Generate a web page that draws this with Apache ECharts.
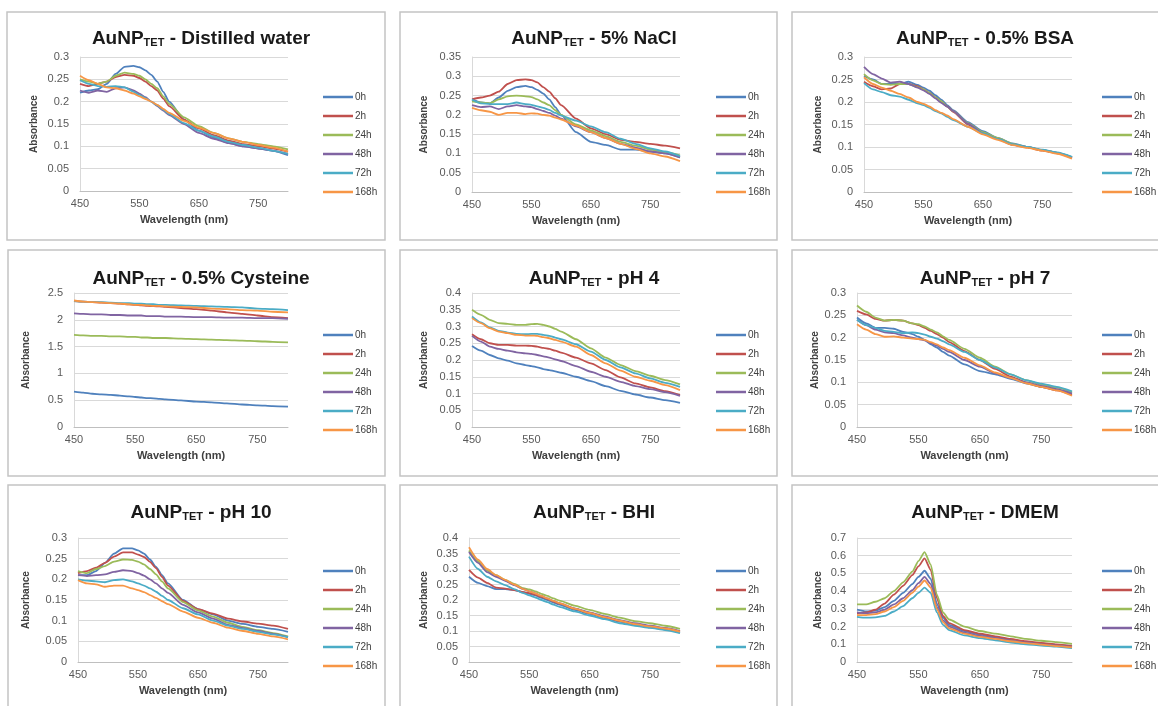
<!DOCTYPE html>
<html>
<head>
<meta charset="utf-8">
<script src="https://cdn.jsdelivr.net/npm/echarts@6/dist/echarts.min.js"></script>
<style>
  html, body { margin: 0; padding: 0; background: #fff; }
  #chart { width: 1158px; height: 706px; }
</style>
</head>
<body>
<div id="chart"></div>
<script>
// ------------------------------------------------------------
// data (absorbance vs wavelength)
// ------------------------------------------------------------
const wavelengths = [450, 465, 480, 495, 510, 525, 540, 550, 560, 570, 580, 590, 600, 625, 650, 675, 700, 725, 750, 775, 800];
const timeLabels = ['0h', '2h', '24h', '48h', '72h', '168h'];
const xTicks = [450, 550, 650, 750];

const panelNames = ['Distilled water', '5% NaCl', '0.5% BSA', '0.5% Cysteine', 'pH 4', 'pH 7', 'pH 10', 'BHI', 'DMEM'];
const yMax  = [0.3, 0.35, 0.3, 2.5, 0.4, 0.3, 0.3, 0.4, 0.7];
const yStep = [0.05, 0.05, 0.05, 0.5, 0.05, 0.05, 0.05, 0.05, 0.1];

// rows: 0h, 2h, 24h, 48h, 72h, 168h
const waterData = [
  [0.22, 0.225, 0.228, 0.24, 0.262, 0.278, 0.28, 0.277, 0.27, 0.26, 0.245, 0.222, 0.2, 0.16, 0.135, 0.12, 0.108, 0.1, 0.095, 0.09, 0.08],
  [0.24, 0.235, 0.24, 0.245, 0.255, 0.26, 0.258, 0.253, 0.245, 0.235, 0.225, 0.207, 0.19, 0.16, 0.14, 0.125, 0.113, 0.105, 0.1, 0.095, 0.088],
  [0.25, 0.245, 0.24, 0.245, 0.258, 0.265, 0.262, 0.258, 0.25, 0.24, 0.23, 0.212, 0.195, 0.165, 0.145, 0.13, 0.118, 0.11, 0.105, 0.1, 0.093],
  [0.225, 0.22, 0.225, 0.222, 0.23, 0.232, 0.225, 0.218, 0.21, 0.2, 0.19, 0.18, 0.17, 0.15, 0.13, 0.117, 0.107, 0.1, 0.095, 0.09, 0.083],
  [0.248, 0.24, 0.235, 0.233, 0.235, 0.232, 0.222, 0.215, 0.208, 0.2, 0.192, 0.182, 0.172, 0.152, 0.135, 0.122, 0.11, 0.103, 0.097, 0.09, 0.083],
  [0.258, 0.248, 0.24, 0.232, 0.23, 0.225, 0.218, 0.212, 0.206, 0.2, 0.193, 0.184, 0.175, 0.157, 0.142, 0.13, 0.118, 0.11, 0.103, 0.097, 0.088]
];
const naclData = [
  [0.24, 0.232, 0.23, 0.245, 0.262, 0.272, 0.275, 0.272, 0.265, 0.255, 0.24, 0.22, 0.2, 0.155, 0.13, 0.122, 0.11, 0.11, 0.105, 0.1, 0.09],
  [0.24, 0.245, 0.25, 0.26, 0.28, 0.29, 0.292, 0.29, 0.284, 0.272, 0.26, 0.243, 0.225, 0.19, 0.165, 0.15, 0.135, 0.13, 0.125, 0.12, 0.113],
  [0.235, 0.232, 0.23, 0.24, 0.248, 0.25, 0.248, 0.246, 0.24, 0.232, 0.225, 0.212, 0.2, 0.175, 0.16, 0.145, 0.13, 0.12, 0.11, 0.103, 0.095],
  [0.225, 0.22, 0.222, 0.215, 0.222, 0.225, 0.222, 0.22, 0.215, 0.21, 0.205, 0.198, 0.19, 0.17, 0.155, 0.14, 0.125, 0.115, 0.105, 0.1, 0.09],
  [0.24, 0.23, 0.228, 0.228, 0.228, 0.232, 0.228, 0.226, 0.222, 0.218, 0.213, 0.205, 0.198, 0.185, 0.17, 0.155, 0.138, 0.125, 0.113, 0.105, 0.093],
  [0.218, 0.212, 0.208, 0.2, 0.205, 0.205, 0.202, 0.204, 0.203, 0.2, 0.198, 0.193, 0.188, 0.172, 0.155, 0.14, 0.125, 0.112, 0.1, 0.092, 0.08]
];
const bsaData = [
  [0.258, 0.25, 0.24, 0.24, 0.24, 0.245, 0.238, 0.232, 0.225, 0.215, 0.205, 0.193, 0.182, 0.155, 0.135, 0.12, 0.108, 0.1, 0.093, 0.087, 0.077],
  [0.245, 0.235, 0.228, 0.23, 0.24, 0.24, 0.235, 0.228, 0.22, 0.21, 0.2, 0.19, 0.178, 0.15, 0.13, 0.118, 0.105, 0.099, 0.092, 0.086, 0.076],
  [0.262, 0.248, 0.24, 0.238, 0.24, 0.24, 0.233, 0.228, 0.22, 0.21, 0.202, 0.19, 0.18, 0.153, 0.133, 0.12, 0.107, 0.1, 0.093, 0.087, 0.077],
  [0.278, 0.262, 0.252, 0.243, 0.245, 0.24, 0.232, 0.226, 0.218, 0.208, 0.198, 0.19, 0.18, 0.152, 0.13, 0.118, 0.105, 0.1, 0.093, 0.087, 0.077],
  [0.242, 0.228, 0.222, 0.215, 0.212, 0.205, 0.197, 0.193, 0.187, 0.18, 0.175, 0.167, 0.16, 0.145, 0.13, 0.118, 0.106, 0.1, 0.094, 0.088, 0.078],
  [0.255, 0.24, 0.232, 0.225, 0.218, 0.21, 0.2, 0.196, 0.19, 0.182, 0.176, 0.17, 0.162, 0.145, 0.128, 0.116, 0.104, 0.098, 0.092, 0.085, 0.074]
];
const cysteineData = [
  [0.66, 0.64, 0.62, 0.61, 0.6, 0.585, 0.57, 0.56, 0.55, 0.54, 0.535, 0.525, 0.515, 0.495, 0.475, 0.46, 0.44, 0.42, 0.405, 0.39, 0.38],
  [2.35, 2.34, 2.33, 2.32, 2.31, 2.3, 2.29, 2.28, 2.27, 2.26, 2.255, 2.25, 2.24, 2.22, 2.2, 2.17, 2.14, 2.11, 2.08, 2.05, 2.03],
  [1.72, 1.71, 1.7, 1.7, 1.69, 1.69, 1.68, 1.68, 1.67, 1.67, 1.66, 1.66, 1.66, 1.65, 1.64, 1.63, 1.62, 1.61, 1.6, 1.59, 1.58],
  [2.12, 2.11, 2.1, 2.1, 2.09, 2.09, 2.08, 2.08, 2.08, 2.07, 2.07, 2.07, 2.06, 2.06, 2.05, 2.05, 2.04, 2.04, 2.03, 2.03, 2.02],
  [2.35, 2.34, 2.33, 2.33, 2.32, 2.31, 2.31, 2.3, 2.3, 2.29, 2.29, 2.28, 2.28, 2.27, 2.26, 2.25, 2.24, 2.23, 2.21, 2.2, 2.18],
  [2.36, 2.34, 2.33, 2.32, 2.31, 2.3, 2.29, 2.28, 2.28, 2.27, 2.26, 2.26, 2.25, 2.24, 2.23, 2.21, 2.2, 2.18, 2.17, 2.15, 2.14]
];
const ph4Data = [
  [0.242, 0.228, 0.215, 0.205, 0.198, 0.19, 0.185, 0.182, 0.178, 0.173, 0.17, 0.166, 0.162, 0.15, 0.137, 0.122, 0.108, 0.097, 0.088, 0.08, 0.072],
  [0.277, 0.262, 0.25, 0.245, 0.245, 0.243, 0.243, 0.242, 0.24, 0.236, 0.233, 0.228, 0.222, 0.207, 0.19, 0.17, 0.148, 0.13, 0.118, 0.107, 0.095],
  [0.35, 0.335, 0.32, 0.31, 0.308, 0.305, 0.305, 0.307, 0.308, 0.305, 0.3, 0.293, 0.285, 0.262, 0.235, 0.207, 0.185, 0.167, 0.153, 0.14, 0.127],
  [0.272, 0.255, 0.24, 0.233, 0.228, 0.223, 0.22, 0.218, 0.215, 0.211, 0.207, 0.202, 0.197, 0.182, 0.165, 0.15, 0.135, 0.122, 0.113, 0.104, 0.093],
  [0.33, 0.312, 0.297, 0.287, 0.282, 0.278, 0.277, 0.278, 0.278, 0.275, 0.272, 0.267, 0.262, 0.247, 0.225, 0.2, 0.178, 0.16, 0.145, 0.132, 0.12],
  [0.325, 0.31, 0.295, 0.285, 0.28, 0.275, 0.273, 0.273, 0.272, 0.268, 0.265, 0.26, 0.255, 0.24, 0.215, 0.19, 0.168, 0.15, 0.138, 0.125, 0.11]
];
const ph7Data = [
  [0.245, 0.232, 0.222, 0.222, 0.22, 0.213, 0.208, 0.202, 0.195, 0.185, 0.178, 0.168, 0.16, 0.14, 0.125, 0.118, 0.108, 0.098, 0.09, 0.083, 0.075],
  [0.26, 0.252, 0.242, 0.238, 0.24, 0.238, 0.232, 0.228, 0.222, 0.215, 0.208, 0.2, 0.19, 0.17, 0.15, 0.13, 0.113, 0.1, 0.09, 0.082, 0.072],
  [0.272, 0.258, 0.245, 0.238, 0.24, 0.238, 0.232, 0.23, 0.225, 0.218, 0.212, 0.203, 0.195, 0.175, 0.155, 0.135, 0.118, 0.105, 0.095, 0.088, 0.078],
  [0.24, 0.228, 0.218, 0.212, 0.21, 0.205, 0.2, 0.197, 0.194, 0.188, 0.182, 0.175, 0.168, 0.15, 0.135, 0.12, 0.11, 0.1, 0.092, 0.085, 0.075],
  [0.24, 0.228, 0.222, 0.215, 0.213, 0.21, 0.212, 0.21, 0.207, 0.202, 0.198, 0.192, 0.185, 0.168, 0.15, 0.133, 0.118, 0.105, 0.097, 0.09, 0.08],
  [0.23, 0.218, 0.208, 0.202, 0.203, 0.2, 0.198, 0.197, 0.195, 0.19, 0.185, 0.178, 0.172, 0.155, 0.138, 0.122, 0.11, 0.098, 0.09, 0.082, 0.07]
];
const ph10Data = [
  [0.21, 0.21, 0.22, 0.24, 0.262, 0.275, 0.275, 0.27, 0.262, 0.248, 0.23, 0.21, 0.19, 0.15, 0.128, 0.115, 0.1, 0.092, 0.085, 0.08, 0.073],
  [0.215, 0.22, 0.228, 0.24, 0.255, 0.265, 0.265, 0.26, 0.254, 0.242, 0.227, 0.206, 0.185, 0.148, 0.128, 0.117, 0.105, 0.098, 0.093, 0.088, 0.08],
  [0.22, 0.215, 0.225, 0.232, 0.243, 0.248, 0.247, 0.243, 0.236, 0.225, 0.212, 0.195, 0.178, 0.145, 0.125, 0.11, 0.095, 0.085, 0.077, 0.07, 0.062],
  [0.21, 0.208, 0.21, 0.212, 0.218, 0.222, 0.22, 0.215, 0.209, 0.2, 0.19, 0.178, 0.167, 0.138, 0.12, 0.105, 0.09, 0.082, 0.075, 0.068, 0.06],
  [0.2, 0.197, 0.195, 0.193, 0.198, 0.2, 0.195, 0.19, 0.185, 0.178, 0.17, 0.16, 0.15, 0.13, 0.115, 0.1, 0.088, 0.08, 0.073, 0.067, 0.06],
  [0.198, 0.19, 0.188, 0.182, 0.185, 0.185, 0.178, 0.174, 0.169, 0.162, 0.155, 0.147, 0.14, 0.122, 0.107, 0.095, 0.083, 0.075, 0.068, 0.062, 0.055]
];
const bhiData = [
  [0.275, 0.255, 0.245, 0.235, 0.235, 0.232, 0.225, 0.22, 0.215, 0.207, 0.2, 0.192, 0.185, 0.168, 0.155, 0.142, 0.13, 0.12, 0.112, 0.105, 0.095],
  [0.297, 0.272, 0.255, 0.24, 0.237, 0.232, 0.225, 0.222, 0.217, 0.21, 0.203, 0.195, 0.188, 0.172, 0.158, 0.145, 0.133, 0.123, 0.115, 0.108, 0.098],
  [0.36, 0.325, 0.295, 0.28, 0.265, 0.252, 0.238, 0.234, 0.228, 0.22, 0.213, 0.205, 0.198, 0.182, 0.168, 0.155, 0.143, 0.132, 0.125, 0.117, 0.107],
  [0.355, 0.32, 0.29, 0.275, 0.262, 0.248, 0.235, 0.228, 0.221, 0.213, 0.205, 0.197, 0.19, 0.173, 0.16, 0.147, 0.135, 0.125, 0.117, 0.11, 0.1],
  [0.34, 0.3, 0.275, 0.26, 0.248, 0.235, 0.222, 0.215, 0.208, 0.2, 0.193, 0.185, 0.178, 0.163, 0.15, 0.138, 0.125, 0.117, 0.11, 0.103, 0.093],
  [0.37, 0.33, 0.3, 0.28, 0.265, 0.25, 0.235, 0.228, 0.221, 0.213, 0.205, 0.197, 0.19, 0.172, 0.158, 0.145, 0.133, 0.122, 0.115, 0.108, 0.098]
];
const dmemData = [
  [0.295, 0.285, 0.29, 0.31, 0.345, 0.39, 0.44, 0.48, 0.515, 0.47, 0.33, 0.25, 0.21, 0.175, 0.155, 0.14, 0.125, 0.113, 0.105, 0.097, 0.088],
  [0.275, 0.28, 0.295, 0.33, 0.38, 0.43, 0.49, 0.54, 0.585, 0.52, 0.36, 0.26, 0.22, 0.18, 0.16, 0.145, 0.13, 0.117, 0.108, 0.1, 0.09],
  [0.325, 0.325, 0.34, 0.36, 0.4, 0.45, 0.51, 0.57, 0.62, 0.55, 0.38, 0.28, 0.24, 0.2, 0.175, 0.16, 0.145, 0.13, 0.12, 0.112, 0.102],
  [0.28, 0.275, 0.28, 0.295, 0.325, 0.36, 0.405, 0.445, 0.48, 0.44, 0.31, 0.235, 0.2, 0.165, 0.148, 0.135, 0.12, 0.11, 0.1, 0.093, 0.085],
  [0.255, 0.25, 0.252, 0.26, 0.285, 0.315, 0.36, 0.39, 0.42, 0.39, 0.28, 0.21, 0.18, 0.15, 0.135, 0.122, 0.11, 0.1, 0.093, 0.087, 0.078],
  [0.265, 0.265, 0.27, 0.285, 0.31, 0.345, 0.39, 0.425, 0.46, 0.42, 0.3, 0.225, 0.19, 0.16, 0.142, 0.13, 0.117, 0.107, 0.098, 0.09, 0.082]
];
const panelData = [waterData, naclData, bsaData, cysteineData, ph4Data, ph7Data, ph10Data, bhiData, dmemData];

// ------------------------------------------------------------
// layout (pixels)
// ------------------------------------------------------------
const seriesColors = ['#4F81BD', '#C0504D', '#9BBB59', '#8064A2', '#4BACC6', '#F79646'];
const FONT = '"Liberation Sans", Arial, sans-serif';

// panel frame: x, y, w, h
const frames = [
  [7, 12, 378, 228], [400, 12, 377, 228], [792, 12, 400, 228],
  [8, 250, 377, 226], [400, 250, 377, 226], [792, 250, 400, 226],
  [8, 485, 377, 240], [400, 485, 377, 240], [792, 485, 400, 240]
];
// plot area: left, top, right edge, bottom edge
const plots = [
  [80, 57, 288, 191], [472, 57, 680, 192], [864, 57, 1072, 192],
  [74, 293, 288, 427], [472, 293, 680, 427], [857, 293, 1072, 427],
  [78, 538, 288, 662], [469, 538, 680, 662], [857, 538, 1072, 662]
];
const titleX = [196, 589, 980];
const titleY = [21, 261, 495];
const legendX = [318, 711, 1097];
const legendY = [87, 325, 561];
const absorbanceX = [33, 423, 817, 25, 423, 817, 25, 423, 817];

const grids = [], xAxes = [], yAxes = [], series = [], titles = [], legends = [], frameRects = [];

panelNames.forEach((name, i) => {
  const [l, t, r, b] = plots[i];
  const col = i % 3, row = Math.floor(i / 3);

  grids.push({ left: l, top: t, width: r - l, height: b - t });

  xAxes.push({
    type: 'value', gridIndex: i, min: 450, max: 800,
    name: 'Wavelength (nm)', nameLocation: 'middle', nameGap: 23,
    nameTextStyle: { fontFamily: FONT, fontSize: 11, fontWeight: 'bold', color: '#404040' },
    axisLine: { lineStyle: { color: '#bfbfbf', width: 1 } },
    axisTick: { show: false },
    splitLine: { show: false },
    axisLabel: { customValues: xTicks, fontFamily: FONT, fontSize: 11, color: '#595959', margin: 7 }
  });

  yAxes.push({
    type: 'value', gridIndex: i, min: 0, max: yMax[i], interval: yStep[i],
    name: 'Absorbance', nameLocation: 'middle', nameRotate: 90, nameGap: l - absorbanceX[i] - 6,
    nameTextStyle: { fontFamily: FONT, fontSize: 10, fontWeight: 'bold', color: '#404040' },
    axisLine: { show: true, lineStyle: { color: '#d9d9d9', width: 1 } },
    axisTick: { show: false },
    splitLine: { lineStyle: { color: '#d9d9d9', width: 1 } },
    axisLabel: { fontFamily: FONT, fontSize: 11, color: '#595959', margin: 11 }
  });

  titles.push({
    text: '{a|AuNP}{s|TET}{a| - ' + name + '}',
    left: titleX[col], top: titleY[row], textAlign: 'center',
    textStyle: {
      rich: {
        a: { fontFamily: FONT, fontSize: 19, fontWeight: 'bold', color: '#1a1a1a', lineHeight: 22, verticalAlign: 'bottom' },
        s: { fontFamily: FONT, fontSize: 11, fontWeight: 'bold', color: '#1a1a1a', lineHeight: 17, verticalAlign: 'bottom' }
      }
    }
  });

  // plain line markers in the legend, like the spreadsheet original
  legends.push({
    orient: 'vertical', left: legendX[col], top: legendY[row],
    data: timeLabels, icon: 'rect', itemWidth: 30, itemHeight: 2.5, itemGap: 9,
    textStyle: { fontFamily: FONT, fontSize: 10, color: '#404040', lineHeight: 10, padding: [0, 0, 0, -3] }
  });

  const [fx, fy, fw, fh] = frames[i];
  frameRects.push({
    type: 'rect', silent: true, z: -1,
    shape: { x: fx, y: fy, width: fw, height: fh },
    style: { fill: '#fff', stroke: '#c4c4c4', lineWidth: 1.5 }
  });

  panelData[i].forEach((vals, j) => {
    series.push({
      type: 'line', name: timeLabels[j],
      xAxisIndex: i, yAxisIndex: i,
      data: wavelengths.map((w, k) => [w, vals[k]]),
      symbol: 'none', smooth: 0.2, smoothMonotone: 'x',
      lineStyle: { width: 1.8, color: seriesColors[j] },
      itemStyle: { color: seriesColors[j] },
      animation: false
    });
  });
});

const chart = echarts.init(document.getElementById('chart'));
chart.setOption({
  backgroundColor: '#fff',
  animation: false,
  title: titles,
  legend: legends,
  grid: grids,
  xAxis: xAxes,
  yAxis: yAxes,
  graphic: frameRects,
  series: series
});
</script>
</body>
</html>
